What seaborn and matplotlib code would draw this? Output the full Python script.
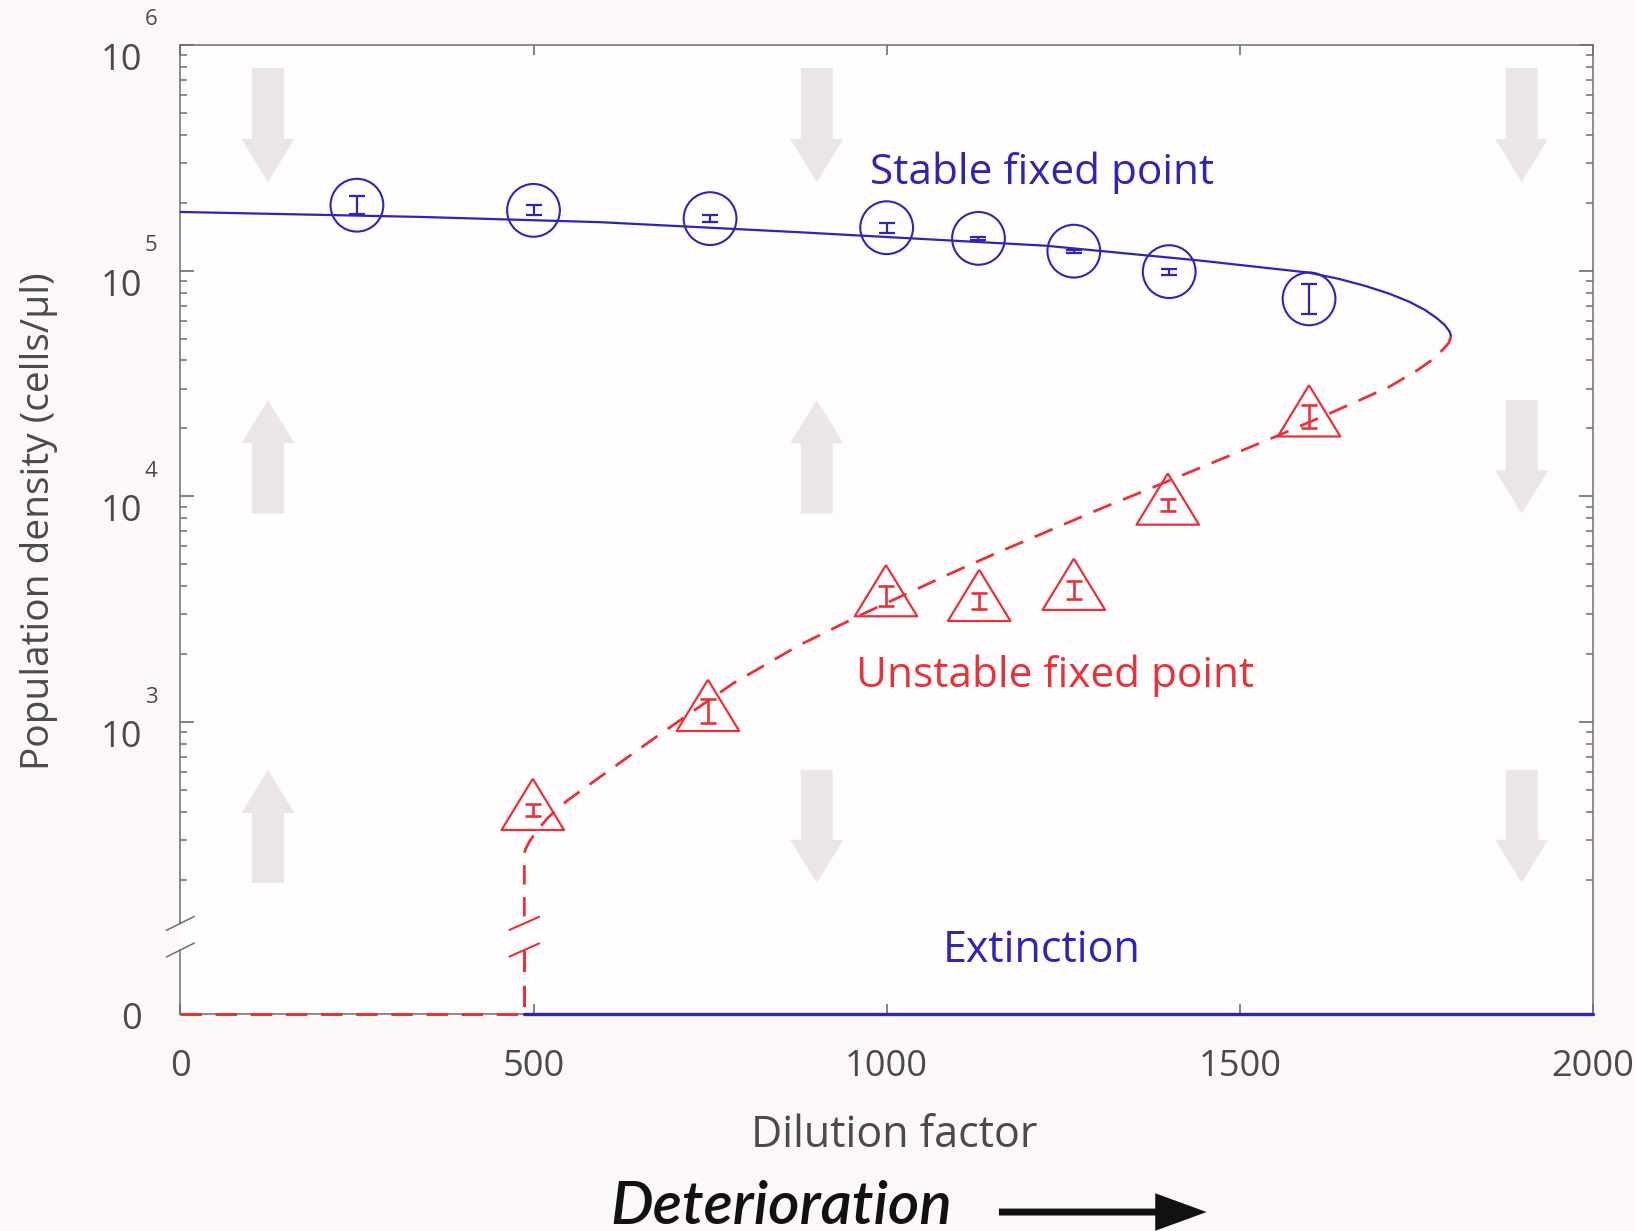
import numpy as np
import matplotlib
matplotlib.use("Agg")
import matplotlib.pyplot as plt
import matplotlib.transforms as mtransforms
import seaborn as sns
from matplotlib.ticker import FixedLocator, NullFormatter

# ------------------------------------------------------------------ data
stable_x = [250, 500, 750, 1000, 1130, 1265, 1400, 1598]
stable_y = [1.95e5, 1.85e5, 1.70e5, 1.55e5, 1.39e5, 1.22e5, 9.9e4, 7.5e4]
stable_lo = [1.78e5, 1.76e5, 1.635e5, 1.47e5, 1.37e5, 1.20e5, 9.6e4, 6.45e4]
stable_hi = [2.14e5, 1.95e5, 1.77e5, 1.63e5, 1.41e5, 1.24e5, 1.02e5, 8.75e4]

unstable_x = [499, 747, 999, 1131, 1265, 1398, 1598]
unstable_y = [408, 1120, 3610, 3440, 3850, 9190, 22600]
unstable_lo = [384, 995, 3260, 3155, 3510, 8650, 20100]
unstable_hi = [434, 1260, 4000, 3750, 4220, 9770, 25400]

stable_curve_x = [0, 340, 594, 876, 1225, 1442, 1598, 1640, 1678, 1712, 1740, 1762,
                  1778, 1790, 1797, 1799]
stable_curve_y = [1.82e5, 1.73e5, 1.64e5, 1.48e5, 1.29e5, 1.11e5, 9.8e4, 9.2e4, 8.55e4,
                  7.9e4, 7.28e4, 6.7e4, 6.19e4, 5.75e4, 5.37e4, 5.13e4]

unstable_curve_x = [1799, 1796, 1786, 1770, 1753, 1711, 1664, 1631, 1556, 1466, 1372, 1301,
                    1230, 1155, 1088, 966, 876, 782, 674, 594, 547, 520, 504, 494, 489,
                    487, 487]
unstable_curve_y = [5.13e4, 4.79e4, 4.42e4, 3.98e4, 3.65e4, 3.05e4, 2.62e4, 2.36e4, 1.87e4,
                    1.43e4, 1.08e4, 8.77e3, 7.05e3, 5.60e3, 4.52e3, 3.01e3, 2.19e3, 1.48e3,
                    861, 571, 447, 376, 327, 295, 275, 263, 127]

extinct_red_x = [0, 487, 487]
extinct_red_y = [0, 0, 90]
extinct_blue_x = [487, 2000]
extinct_blue_y = [0, 0]

arrow_x = [124, 901, 1899]
arrow_rows = [(2.47e5, 7.9e5), (8.4e3, 2.67e4), (194, 614)]   # (low, high) of each arrow row
arrow_dirs = [["down", "down", "down"], ["up", "up", "down"], ["up", "down", "down"]]

x_ticks = [0, 500, 1000, 1500, 2000]
y_ticks = [0, 1e3, 1e4, 1e5, 1e6]
y_tick_base = ["0", "10", "10", "10", "10"]
y_tick_exp = ["", "3", "4", "5", "6"]

# ------------------------------------------------------------------ style
BLUE = "#2e26b3"
RED = "#e8323a"
GRAY_ARROW = "#eae6e6"
SPINE = "#6e6e6e"
TXT = "#4a4a4a"

sns.set_style("white")
plt.rcParams["font.family"] = ["Open Sans", "DejaVu Sans"]

# broken y scale: log above T, linear between 0 and T
LT = 2.132
T = 10 ** LT
Z0 = 1.707


def fwd(y):
    y = np.asarray(y, dtype=float)
    with np.errstate(divide="ignore", invalid="ignore"):
        lg = np.log10(np.where(y > T, y, T))
    return np.where(y >= T, lg, Z0 + (LT - Z0) * y / T)


def inv(z):
    z = np.asarray(z, dtype=float)
    with np.errstate(over="ignore"):
        return np.where(z >= LT, 10.0 ** np.clip(z, None, 300), (z - Z0) / (LT - Z0) * T)


fig = plt.figure(figsize=(16.35, 12.31), dpi=100, facecolor="#fcf8f8")
ax = fig.add_axes([0.1103, 0.1763, 0.864, 0.7872])
ax.set_facecolor("#fefcfc")
ax.set_yscale("function", functions=(fwd, inv))

# background arrows
for r, (lo, hi) in enumerate(arrow_rows):
    for c, xx in enumerate(arrow_x):
        if arrow_dirs[r][c] == "down":
            tail, head = hi, lo
        else:
            tail, head = lo, hi
        ax.annotate("", xy=(xx, head), xytext=(xx, tail),
                    arrowprops=dict(arrowstyle="simple,head_length=31,head_width=38,tail_width=23",
                                    mutation_scale=1, color=GRAY_ARROW, shrinkA=0, shrinkB=0, lw=0),
                    zorder=0.5)

# curves
sns.lineplot(x=stable_curve_x, y=stable_curve_y, ax=ax, color=BLUE, lw=1.6,
             sort=False, estimator=None, zorder=3)
sns.lineplot(x=unstable_curve_x, y=unstable_curve_y, ax=ax, color=RED, lw=2.0,
             sort=False, estimator=None, linestyle=(0, (7.0, 4.5)), zorder=3)
sns.lineplot(x=extinct_red_x, y=extinct_red_y, ax=ax, color=RED, lw=2.2,
             sort=False, estimator=None, linestyle=(0, (7.0, 4.5)), zorder=4, clip_on=False)
sns.lineplot(x=extinct_blue_x, y=extinct_blue_y, ax=ax, color=BLUE, lw=2.4,
             sort=False, estimator=None, zorder=4, clip_on=False)

# error bars
ax.errorbar(stable_x, stable_y,
            yerr=[np.array(stable_y) - np.array(stable_lo), np.array(stable_hi) - np.array(stable_y)],
            fmt="none", ecolor=BLUE, elinewidth=1.6, capsize=5.5, capthick=1.6, zorder=5)
ax.errorbar(unstable_x, unstable_y,
            yerr=[np.array(unstable_y) - np.array(unstable_lo), np.array(unstable_hi) - np.array(unstable_y)],
            fmt="none", ecolor=RED, elinewidth=1.9, capsize=5.5, capthick=1.9, zorder=5)

# markers
sns.scatterplot(x=stable_x, y=stable_y, ax=ax, marker="o", s=38 ** 2,
                facecolor="none", edgecolor=BLUE, linewidth=1.5, zorder=6)
tri = [(0, 1.0), (-1.0, -0.64), (1.0, -0.64), (0, 1.0)]
sns.scatterplot(x=unstable_x, y=unstable_y, ax=ax, marker=tri, s=45 ** 2,
                facecolor="none", edgecolor=RED, linewidth=1.6, zorder=6)

# axes limits and ticks
ax.set_xlim(0, 2000)
ax.set_ylim(0, 1e6)
ax.set_xticks(x_ticks)
ax.set_xticklabels([str(t) for t in x_ticks])
ax.yaxis.set_major_locator(FixedLocator(y_ticks))
ax.yaxis.set_major_formatter(NullFormatter())
minor = [k * 10 ** e for e in range(2, 6) for k in range(2, 10) if k * 10 ** e > T]
ax.yaxis.set_minor_locator(FixedLocator(minor))
ax.yaxis.set_minor_formatter(NullFormatter())

ax.tick_params(axis="y", which="major", direction="in", length=10, width=1.2, color=SPINE,
               left=True, right=True)
ax.tick_params(axis="y", which="minor", direction="in", length=5, width=1.1, color=SPINE,
               left=True, right=True)
ax.tick_params(axis="x", which="major", direction="in", length=7, width=1.2, color=SPINE,
               top=True, bottom=True, labelsize=26, labelcolor=TXT, pad=25)

# y tick labels drawn as "10" with a raised exponent, as in the original figure
ytrans = ax.get_yaxis_transform()
for val, base, ex in zip(y_ticks, y_tick_base, y_tick_exp):
    dy = -4 if ex == "" else -11.5
    off = mtransforms.offset_copy(ytrans, fig=fig, x=0, y=dy, units="points")
    ax.text(-0.027, val, base, transform=off, ha="right", va="center",
            fontsize=26, color=TXT, clip_on=False)
    if ex:
        off2 = mtransforms.offset_copy(ytrans, fig=fig, x=0, y=18, units="points")
        ax.text(-0.0208, val, ex, transform=off2, ha="center", va="center",
                fontsize=16, color=TXT, clip_on=False)

for side in ["top", "right", "bottom"]:
    ax.spines[side].set_color(SPINE)
    ax.spines[side].set_linewidth(1.1)
ax.spines["left"].set_visible(False)

# split left spine with break marks
brk_lo, brk_hi = 0.066, 0.0935
ax.plot([0, 0], [0, brk_lo], transform=ax.transAxes, color=SPINE, lw=1.1, clip_on=False)
ax.plot([0, 0], [brk_hi, 1], transform=ax.transAxes, color=SPINE, lw=1.1, clip_on=False)
for yb in (brk_lo, brk_hi):
    ax.plot([-0.0099, 0.0099], [yb - 0.0072, yb + 0.0072], transform=ax.transAxes,
            color=SPINE, lw=1.1, clip_on=False)
    ax.plot([487 - 21, 487 + 21], [yb - 0.0068, yb + 0.0068], transform=ax.get_xaxis_transform(),
            color=RED, lw=1.5, clip_on=False, zorder=4)

# labels
ax.set_xlabel("Dilution factor", fontsize=31, color=TXT, va="top")
ax.xaxis.set_label_coords(0.5056, -0.103)
ax.set_ylabel("Population density (cells/μl)", fontsize=28, color=TXT, va="center")
ax.yaxis.set_label_coords(-0.1004, 0.509)

ax.text(0.610, 0.868, "Stable fixed point", transform=ax.transAxes, color=BLUE,
        fontsize=30.5, ha="center", va="center")
ax.text(0.619, 0.349, "Unstable fixed point", transform=ax.transAxes, color=RED,
        fontsize=30.5, ha="center", va="center")
ax.text(0.610, 0.065, "Extinction", transform=ax.transAxes, color=BLUE,
        fontsize=31, ha="center", va="center")

fig.text(0.4777, 0.0195, "Deterioration", fontsize=43.5, style="italic", color="#111111",
         ha="center", va="center", family=["Lato", "DejaVu Sans"], fontweight=600)
ax.annotate("", xy=(0.738, 0.0154), xytext=(0.611, 0.0154), xycoords="figure fraction",
            textcoords="figure fraction",
            arrowprops=dict(arrowstyle="simple,head_length=37,head_width=27,tail_width=5",
                            mutation_scale=1, color="#111111", shrinkA=0, shrinkB=0, lw=0),
            annotation_clip=False)

fig.savefig("out.png", dpi=100, facecolor=fig.get_facecolor())
